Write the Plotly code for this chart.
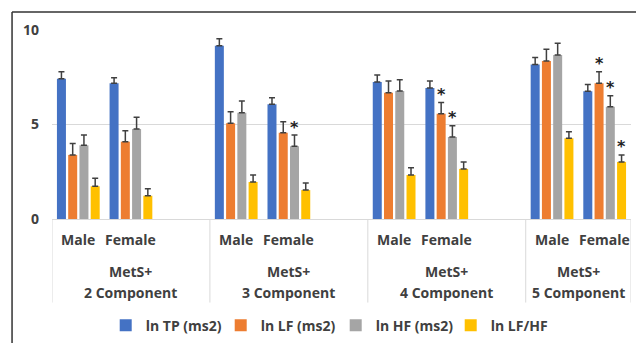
import plotly.graph_objects as go

# ---- data ----
group_labels = ["MetS+<br>2 Component", "MetS+<br>3 Component",
                "MetS+<br>4 Component", "MetS+<br>5 Component"]
sex_labels = ["Male", "Female"]
series_names = ["ln TP (ms2)", "ln LF (ms2)", "ln HF (ms2)", "ln LF/HF"]

# order: (2C M, 2C F, 3C M, 3C F, 4C M, 4C F, 5C M, 5C F)
ln_tp = [7.42, 7.18, 9.17, 6.07, 7.25, 6.93, 8.18, 6.76]
ln_tp_err = [0.37, 0.30, 0.37, 0.35, 0.37, 0.37, 0.36, 0.35]
ln_lf = [3.39, 4.09, 5.06, 4.57, 6.68, 5.57, 8.36, 7.18]
ln_lf_err = [0.61, 0.58, 0.62, 0.58, 0.62, 0.60, 0.62, 0.61]
ln_hf = [3.90, 4.76, 5.62, 3.85, 6.77, 4.34, 8.68, 5.94]
ln_hf_err = [0.54, 0.62, 0.62, 0.59, 0.60, 0.60, 0.62, 0.58]
ln_lfhf = [1.73, 1.23, 1.96, 1.53, 2.33, 2.65, 4.27, 3.02]
ln_lfhf_err = [0.42, 0.37, 0.37, 0.37, 0.38, 0.37, 0.35, 0.37]

sig_tp = [0, 0, 0, 0, 0, 0, 0, 0]
sig_lf = [0, 0, 0, 0, 0, 1, 0, 1]
sig_hf = [0, 0, 0, 1, 0, 1, 0, 1]
sig_lfhf = [0, 0, 0, 0, 0, 0, 0, 1]

colors = ["#4472C4", "#ED7D31", "#A5A5A5", "#FFC000"]
values = [ln_tp, ln_lf, ln_hf, ln_lfhf]
errors = [ln_tp_err, ln_lf_err, ln_hf_err, ln_lfhf_err]
sigs = [sig_tp, sig_lf, sig_hf, sig_lfhf]

# slot positions: each group has a Male, Female and an empty spacer slot
slots_per_group = 3
xpos = [g * slots_per_group + s for g in range(len(group_labels)) for s in range(len(sex_labels))]
x_max = xpos[-1] + 0.5

TXT = "#404040"
FONT = dict(family="Open Sans", size=14, color=TXT, weight="bold")

BARGAP = 0.145
GROUPGAP = 0.2

fig = go.Figure()
for name, v, e, c in zip(series_names, values, errors, colors):
    fig.add_trace(go.Bar(
        x=xpos, y=v, name=name, marker=dict(color=c, line=dict(width=0)),
        error_y=dict(type="data", symmetric=False, array=e, arrayminus=[0] * len(e),
                     color="#404040", thickness=1.5, width=3),
    ))

annotations = []
# significance stars
n_series = len(series_names)
slot_w = (1 - BARGAP) / n_series
for i, (v, e, sg) in enumerate(zip(values, errors, sigs)):
    off = -(1 - BARGAP) / 2 + slot_w * (i + 0.5)
    for x, vv, ee, s in zip(xpos, v, e, sg):
        if s:
            annotations.append(dict(x=x + off, y=vv + ee, xref="x", yref="y", text="*",
                                    showarrow=False, yanchor="middle", yshift=8,
                                    font=dict(family="DejaVu Sans", size=16, color="#222222", weight="bold")))

# category labels
for x, i in zip(xpos, range(len(xpos))):
    annotations.append(dict(x=x, y=-0.109, xref="x", yref="paper", text=sex_labels[i % 2],
                            showarrow=False, yanchor="middle", font=FONT))

shapes = []
for g, lab in enumerate(group_labels):
    start = g * slots_per_group - 0.5
    end = min(start + slots_per_group, x_max)
    l1, l2 = lab.split("<br>")
    annotations.append(dict(x=(start + end) / 2, y=-0.278, xref="x", yref="paper", text=l1,
                            showarrow=False, yanchor="middle", font=FONT))
    annotations.append(dict(x=(start + end) / 2, y=-0.389, xref="x", yref="paper", text=l2,
                            showarrow=False, yanchor="middle", font=FONT))
    shapes.append(dict(type="line", xref="x", yref="paper", x0=start, x1=start, y0=0, y1=-0.442,
                       line=dict(color="#D9D9D9", width=1)))
shapes.append(dict(type="line", xref="x", yref="paper", x0=x_max, x1=x_max, y0=0, y1=-0.442,
                   line=dict(color="#D9D9D9", width=1)))

# outer frame (top and left)
shapes.append(dict(type="line", xref="paper", yref="paper", x0=-0.069, x1=1.02, y0=1.095, y1=1.095,
                   line=dict(color="#333333", width=1.5)))
shapes.append(dict(type="line", xref="paper", yref="paper", x0=-0.069, x1=-0.069, y0=1.095, y1=-0.7,
                   line=dict(color="#333333", width=1.5)))

fig.update_layout(
    width=636, height=343,
    margin=dict(l=52, r=5, t=30, b=124, autoexpand=False),
    paper_bgcolor="white", plot_bgcolor="white",
    barmode="group", bargap=BARGAP, bargroupgap=GROUPGAP,
    font=FONT,
    xaxis=dict(range=[-0.5, x_max], showticklabels=False, showgrid=False, zeroline=False,
               showline=False, ticks="", automargin=False),
    yaxis=dict(range=[0, 10], tickvals=[0, 5, 10], showgrid=True, gridcolor="#D9D9D9",
               gridwidth=1, zeroline=True, zerolinecolor="#D9D9D9", zerolinewidth=1,
               showline=False, ticklabelstandoff=12, tickfont=FONT, automargin=False),
    legend=dict(orientation="h", x=0.49, xanchor="center", y=-0.564, yanchor="middle",
                font=FONT, traceorder="normal", itemwidth=30, entrywidth=70),
    annotations=annotations, shapes=shapes,
)

fig.write_html("out.html", config={"displayModeBar": False},
               post_script="document.body.style.margin='0';document.body.style.overflow='hidden';")
